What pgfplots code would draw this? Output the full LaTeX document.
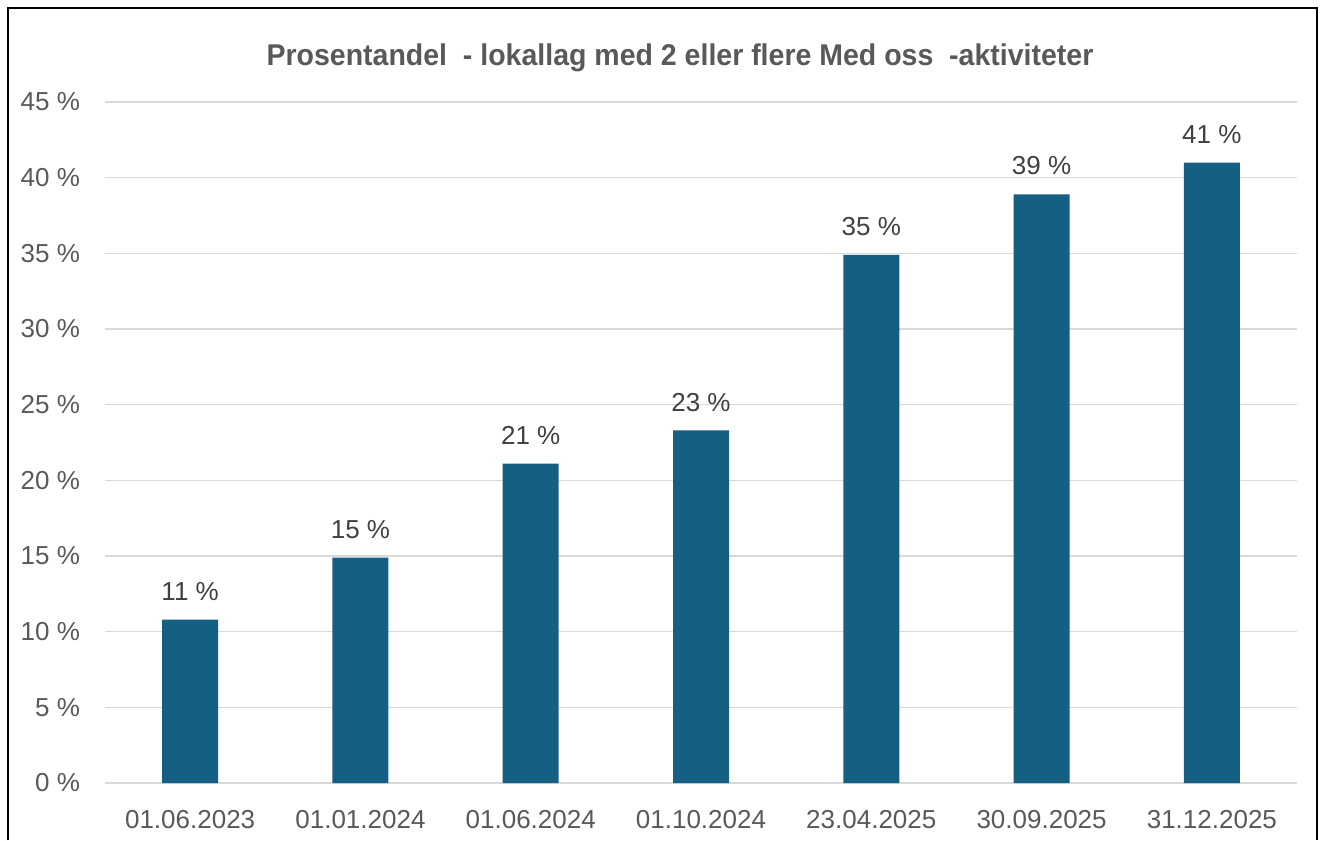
\documentclass[border=0pt]{standalone}
\usepackage{pgfplots}
\pgfplotsset{compat=1.18}
\usepackage{fontspec}
\setmainfont{Liberation Sans}
\newfontfamily\titlefont[FakeStretch=0.95]{Liberation Sans}

\definecolor{barblue}{HTML}{156082}
\definecolor{txtgray}{HTML}{595959}
\definecolor{lblgray}{HTML}{404040}
\definecolor{gridgray}{HTML}{D9D9D9}

\begin{document}
\begin{tikzpicture}
% 1 px of the reference = 0.5pt
\useasboundingbox (0,0) rectangle (662.5pt,420pt);
\draw[line width=1pt] (4pt,0) -- (4pt,416pt) -- (658.5pt,416pt) -- (658.5pt,0);

\node[text=txtgray, font=\titlefont\bfseries\fontsize{15}{18}\selectfont]
    at (340pt,391pt) {Prosentandel \ - lokallag med 2 eller flere Med oss \ -aktiviteter};

\begin{axis}[
    at={(52.5pt,28.5pt)}, anchor=south west,
    scale only axis,
    width=596pt, height=340.5pt,
    ymin=0, ymax=45,
    ytick={0,5,...,45},
    yticklabel={\pgfmathprintnumber{\tick}~\%},
    /pgf/number format/assume math mode=true,
    xmin=-0.5, xmax=6.5,
    xtick={0,...,6},
    xticklabels={01.06.2023,01.01.2024,01.06.2024,01.10.2024,23.04.2025,30.09.2025,31.12.2025},
    axis line style={draw=none},
    tick style={draw=none},
    ymajorgrids,
    grid style={gridgray, line width=0.75pt},
    ticklabel style={text=txtgray, font=\fontsize{13}{15}\selectfont},
    yticklabel style={xshift=-9pt},
    xticklabel style={yshift=-6pt},
    ybar, bar width=28pt,
    nodes near coords={\pgfmathprintnumber[fixed,precision=0]{\pgfplotspointmeta}~\%},
    nodes near coords style={text=lblgray, font=\fontsize{13}{15}\selectfont, yshift=6pt},
    clip=false,
]
\addplot[fill=barblue, draw=none] coordinates {
    (0,10.8) (1,14.9) (2,21.1) (3,23.3) (4,34.9) (5,38.9) (6,41.0)
};
\end{axis}
\end{tikzpicture}
\end{document}
